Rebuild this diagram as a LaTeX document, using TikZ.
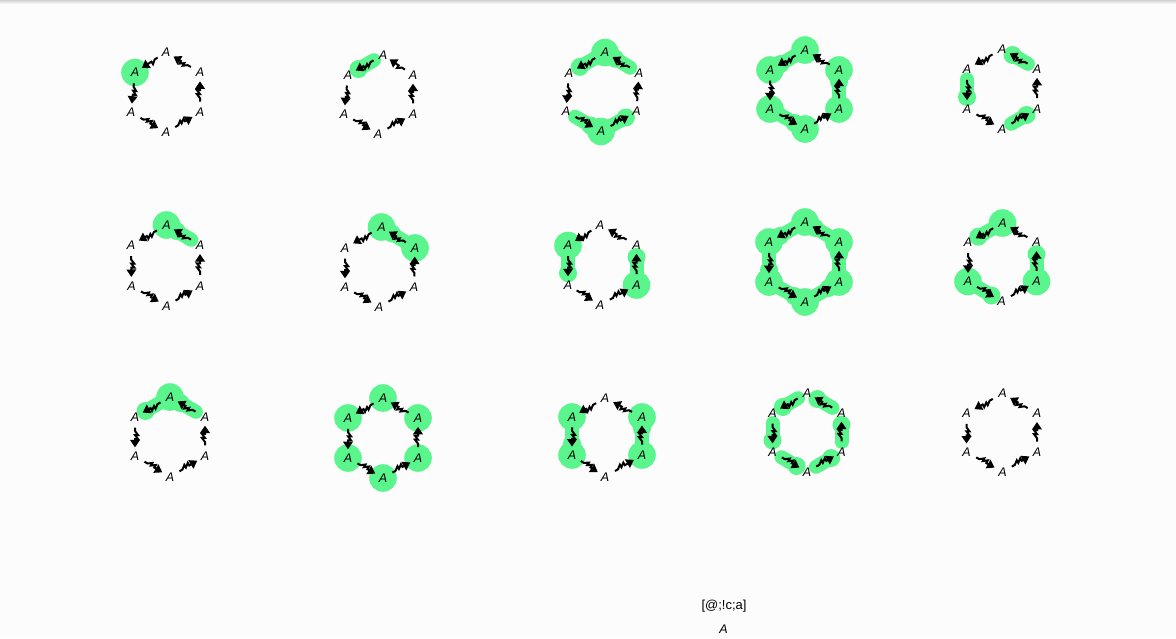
\documentclass[tikz,border=0pt]{standalone}
\usepackage{fontspec}
\setmainfont{Liberation Sans}
\usetikzlibrary{decorations.pathmorphing,arrows.meta,calc}
\definecolor{hlgreen}{RGB}{90,245,140}
\definecolor{bgc}{RGB}{252,252,252}
\tikzset{
  lab/.style={font=\fontsize{12.5}{13}\selectfont\itshape, inner sep=0pt},
  zz/.style={line width=2pt, black, line join=miter, decorate,
    decoration={saw, segment length=4pt, amplitude=3pt, pre length=3.5pt, post length=7.5pt},
    -{Triangle[length=7.5pt,width=9.5pt]}},
  hle/.style={draw=hlgreen, line width=14pt, line cap=round},
}
\newcommand\drawpanel[4]{%
  \foreach \k/\x/\y in {#2} {\coordinate (c#1-\k) at (\x,\y);}
  \foreach \k in {#3} {\ifnum\k>0 \fill[hlgreen] (c#1-\k) circle (13.8pt);\fi}
  \foreach \k in {#4} {\ifnum\k>0
    \pgfmathtruncatemacro\n{mod(\k,6)+1}
    \draw[hle] ($(c#1-\k)!0.26!(c#1-\n)$) -- ($(c#1-\k)!0.73!(c#1-\n)$);
    \fill[hlgreen] ($(c#1-\k)!0.7!(c#1-\n)$) circle (9pt);
  \fi}
  \foreach \k in {1,...,6} {\node[lab] (p#1-\k) at (c#1-\k) {A};}
  \foreach \k in {1,...,6} {
    \pgfmathtruncatemacro\n{mod(\k,6)+1}
    \draw[zz] ($(p#1-\k.center)!0.27!(p#1-\n.center)$) -- ($(p#1-\k.center)!0.78!(p#1-\n.center)$);
  }
}
\begin{document}
\begin{tikzpicture}[x=1pt,y=-1pt]
\useasboundingbox (0,0) rectangle (1176,638);
\fill[bgc] (0,0) rectangle (1176,638);
\shade[top color=black!18, bottom color=bgc] (0,0) rectangle (1176,4);
% row 1
\drawpanel{1}{1/166/52, 2/135/72.5, 3/131/112.5, 4/166/132.5, 5/200/112.5, 6/200/72.5}{2}{0}
\drawpanel{2}{1/383/55, 2/348/75, 3/344/114, 4/378/134, 5/413/114, 6/413/75}{0}{1}
\drawpanel{3}{1/605/52.5, 2/569/73, 3/566/111.5, 4/601/131.5, 5/636.5/111.5, 6/639/73}{1,4}{1,3,4,6}
\drawpanel{4}{1/805/50, 2/770/70, 3/770/109, 4/805/129, 5/839/109, 6/839/70}{1,2,3,4,5,6}{1,3,5}
\drawpanel{5}{1/1002/49, 2/967/69, 3/967/109, 4/1002/129, 5/1037/109, 6/1037/69}{0}{2,4,6}
% row 2
\drawpanel{6}{1/166.5/225, 2/131/245, 3/131.5/286, 4/166.5/306, 5/200/286, 6/200/245}{1}{6}
\drawpanel{7}{1/381.5/227, 2/345/248, 3/345/287, 4/379/307, 5/414/287, 6/415/248}{1,6}{6}
\drawpanel{8}{1/600/225, 2/568/245.5, 3/568/285, 4/600/305, 5/636.5/285, 6/636.5/245}{2,5}{2,5}
\drawpanel{9}{1/805/222, 2/769/242, 3/769/282, 4/805/302, 5/839/282, 6/839/242}{1,2,3,4,5,6}{1,2,3,4,5,6}
\drawpanel{10}{1/1002.5/223, 2/968/242.5, 3/968/281.5, 4/1001.5/301.5, 5/1036.5/281.5, 6/1036.5/242.5}{1,3,5}{1,3,5}
% row 3
\drawpanel{11}{1/170/397, 2/135/417, 3/135/456, 4/170/477, 5/205/456, 6/205/417}{1}{1,6}
\drawpanel{12}{1/383/398, 2/348/418, 3/348/458, 4/383/478, 5/418/458, 6/418/418}{1,2,3,4,5,6}{0}
\drawpanel{13}{1/605/398, 2/572/417, 3/572/455, 4/605/477, 5/642/455, 6/642/417}{2,3,5,6}{2,5}
\drawpanel{14}{1/807/393, 2/772.5/413, 3/772.5/452, 4/807/472, 5/841.5/452, 6/841.5/413}{0}{1,2,3,4,5,6}
\drawpanel{15}{1/1002.5/393.5, 2/966.5/413.5, 3/966.5/452, 4/1002.5/472, 5/1037/452, 6/1037/413.5}{0}{0}
% caption
\node[font=\fontsize{13}{15}\selectfont, inner sep=0pt] (cap) at (724,606.5) {[@;!c;a]};
\node[lab] (capA) at (723.5,629.5) {A};
\end{tikzpicture}
\end{document}
